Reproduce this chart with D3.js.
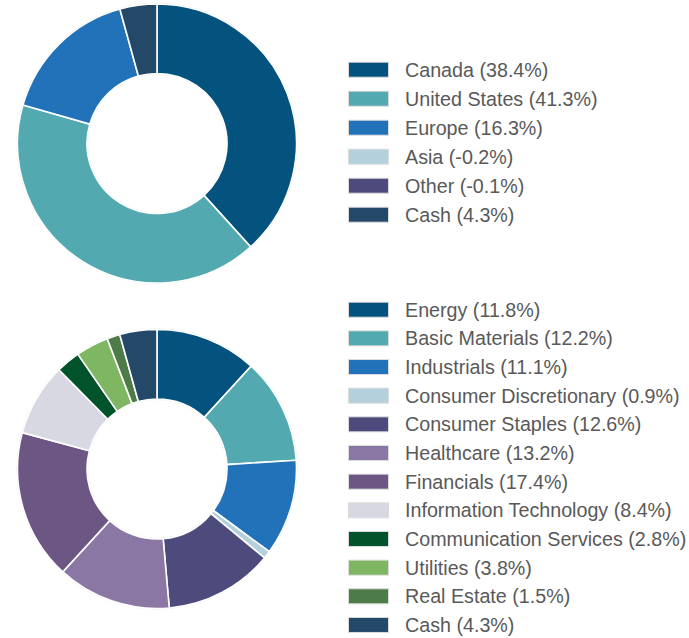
<!DOCTYPE html>
<html>
<head>
<meta charset="utf-8">
<script src="https://cdn.jsdelivr.net/npm/d3@7"></script>
<style>
  body { margin: 0; background: #fff; }
  svg text { font-family: "Liberation Sans", Arial, sans-serif; }
</style>
</head>
<body>
<div id="chart"></div>
<script>
// region breakdown
const regions = ['Canada', 'United States', 'Europe', 'Asia', 'Other', 'Cash']
const regionValues = [38.4, 41.3, 16.3, -0.2, -0.1, 4.3]
const regionColors = ['#04537f', '#52a9b0', '#2272b9', '#b3d0dc', '#4d4b7b', '#244868']

// sector breakdown
const sectors = ['Energy', 'Basic Materials', 'Industrials', 'Consumer Discretionary',
  'Consumer Staples', 'Healthcare', 'Financials', 'Information Technology',
  'Communication Services', 'Utilities', 'Real Estate', 'Cash']
const sectorValues = [11.8, 12.2, 11.1, 0.9, 12.6, 13.2, 17.4, 8.4, 2.8, 3.8, 1.5, 4.3]
const sectorColors = ['#04537f', '#52a9b0', '#2272b9', '#b3d0dc', '#4d4b7b', '#8b77a4',
  '#6b5684', '#d8d8e2', '#00532a', '#7fb662', '#4e7c48', '#244868']

const W = 689
const H = 638

const svg = d3.select('#chart')
  .append('svg')
  .attr('width', W)
  .attr('height', H)

function donut(names, values, colors, cx, cy, legendY, legendStep) {
  const data = names.map((n, i) => ({ name: n, value: values[i], color: colors[i] }))

  const pie = d3.pie()
    .sort(null)
    .value(d => Math.max(0, d.value))

  const outerR = 139.5
  const innerR = 70
  const arc = d3.arc().innerRadius(innerR).outerRadius(outerR)

  const g = svg.append('g')
    .attr('transform', `translate(${cx}, ${cy})`)

  // faint outline round the ring
  g.append('circle')
    .attr('r', outerR + 0.5)
    .attr('fill', 'none')
    .attr('stroke', '#e3e3e3')
    .attr('stroke-width', 1)
  g.append('circle')
    .attr('r', innerR - 0.5)
    .attr('fill', 'none')
    .attr('stroke', '#ececec')
    .attr('stroke-width', 1)

  g.selectAll('path')
    .data(pie(data).filter(d => d.value > 0))
    .enter()
    .append('path')
    .attr('d', arc)
    .attr('fill', d => d.data.color)
    .attr('stroke', '#fff')
    .attr('stroke-width', 1.6)

  const y = d3.scaleLinear().domain([0, 1]).range([legendY, legendY + legendStep])

  const rows = svg.append('g')
    .selectAll('g')
    .data(data)
    .enter()
    .append('g')
    .attr('transform', (d, i) => `translate(0, ${y(i)})`)

  rows.append('rect')
    .attr('x', 348.5)
    .attr('y', -7.5)
    .attr('width', 40)
    .attr('height', 15)
    .attr('fill', d => d.color)
    .attr('stroke', '#dcdcdc')
    .attr('stroke-width', 1)

  rows.append('text')
    .attr('x', 405)
    .attr('y', 0)
    .attr('dy', '0.35em')
    .attr('font-size', '19.7px')
    .attr('fill', '#595959')
    .text(d => `${d.name} (${d.value.toFixed(1)}%)`)
}

donut(regions, regionValues, regionColors, 157, 143.5, 69.7, 29)
donut(sectors, sectorValues, sectorColors, 157, 469, 309.7, 28.66)
</script>
</body>
</html>
